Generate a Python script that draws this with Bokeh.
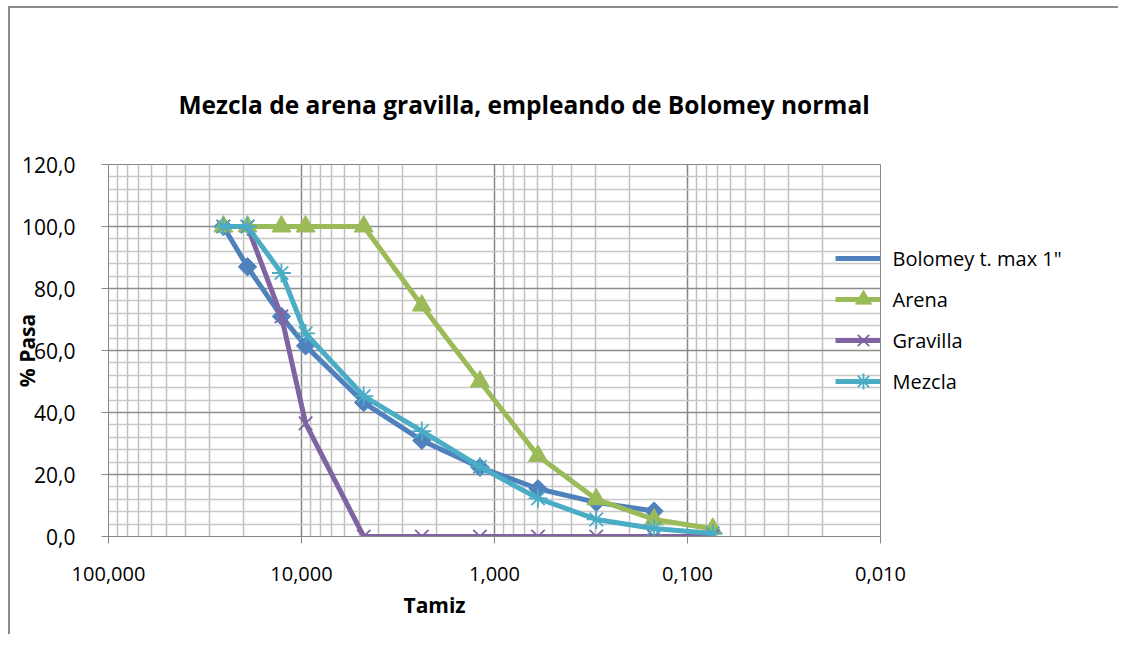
import math
from bokeh.plotting import figure
from bokeh.models import (Range1d, FixedTicker, CustomJSTickFormatter, Legend, LegendItem,
                          Title, LinearAxis)
from bokeh.embed import file_html
from bokeh.resources import INLINE

# Sieve openings (mm)
tamiz = [25.4, 19.05, 12.7, 9.525, 4.76, 2.38, 1.19, 0.595, 0.297, 0.149, 0.074]

bolomey_x = [25.4, 19.05, 12.7, 9.525, 4.76, 2.38, 1.19, 0.595, 0.297, 0.149]
bolomey = [100.0, 87.0, 71.0, 61.5, 43.2, 31.0, 22.3, 15.4, 11.0, 8.2]
arena = [100.0, 100.0, 100.0, 100.0, 100.0, 74.5, 50.0, 26.0, 12.0, 5.5, 2.5]
gravilla = [100.0, 100.0, 71.0, 36.5, 0.0, 0.0, 0.0, 0.0, 0.0, 0.0, 0.0]
mezcla = [100.0, 100.0, 85.0, 65.5, 45.3, 34.0, 22.5, 12.3, 5.5, 2.6, 1.0]

x_ticks = [100, 10, 1, 0.1, 0.01]
x_minor = [m * 10.0 ** e for e in (-2, -1, 0, 1) for m in range(2, 10)]
y_ticks = [0, 20, 40, 60, 80, 100, 120]
y_minor = [v for v in range(0, 121, 4) if v % 20 != 0]

title_text = "Mezcla de arena gravilla, empleando de Bolomey normal"
series_names = ['Bolomey  t. max  1"', "Arena", "Gravilla", "Mezcla"]
colors = ["#4F81BD", "#9BBB59", "#8064A2", "#4BACC6"]

FONT = "Open Sans"

# layout constants (pixels)
FRAME_H = 372
LEG_TOP = 94        # first legend row centre, below top of plot area
LEG_STEP = 41       # legend row spacing

p = figure(width=1110, height=628, x_axis_type="log",
           x_range=Range1d(100, 0.01), y_range=Range1d(0, 120),
           output_backend="svg", toolbar_location=None,
           min_border_left=95, min_border_right=240,
           min_border_top=156, min_border_bottom=100)
p.styles = {"margin-left": "8px", "margin-top": "6px",
            "border-left": "2px solid #8c8c8c", "border-top": "2px solid #8c8c8c"}
p.outline_line_color = "#868686"
p.background_fill_color = "white"
p.border_fill_color = "white"

# axes
p.xaxis.ticker = FixedTicker(ticks=x_ticks, minor_ticks=x_minor)
p.yaxis.ticker = FixedTicker(ticks=y_ticks, minor_ticks=y_minor)
p.xaxis.formatter = CustomJSTickFormatter(code="return tick.toFixed(3).replace('.', ',');")
p.yaxis.formatter = CustomJSTickFormatter(code="return tick.toFixed(1).replace('.', ',');")
for ax in (p.xaxis, p.yaxis):
    ax.axis_line_color = "#868686"
    ax.major_tick_line_color = "#868686"
    ax.major_tick_out = 7
    ax.major_tick_in = 0
    ax.minor_tick_out = 0
    ax.minor_tick_in = 0
    ax.major_label_text_font = FONT
    ax.major_label_text_font_size = "20px"
    ax.major_label_text_color = "black"
p.yaxis.major_label_text_font_size = "21px"
p.xaxis.major_label_standoff = 23
p.yaxis.major_label_standoff = 26

p.yaxis.axis_label = "% Pasa"
p.yaxis.axis_label_standoff = -22
p.yaxis.axis_label_text_font = FONT
p.yaxis.axis_label_text_font_style = "bold"
p.yaxis.axis_label_text_font_size = "21px"
p.yaxis.axis_label_text_color = "black"

# grid
p.xgrid.grid_line_color = "#868686"
p.ygrid.grid_line_color = "#8c8c8c"
p.xgrid.minor_grid_line_color = "#c0c0c0"
p.ygrid.minor_grid_line_color = "#c8c8c8"
p.xgrid.grid_line_width = 1.5
p.ygrid.grid_line_width = 1.5
p.xgrid.minor_grid_line_width = 1.5
p.ygrid.minor_grid_line_width = 1.5

LW = 5
r_b_line = p.line(bolomey_x, bolomey, line_color=colors[0], line_width=LW)
r_b_mark = p.scatter(bolomey_x, bolomey, marker="square", angle=math.pi / 4, size=13,
                     fill_color=colors[0], line_color=colors[0])
r_a_line = p.line(tamiz, arena, line_color=colors[1], line_width=LW)
r_a_mark = p.scatter(tamiz, arena, marker="triangle", size=19,
                     fill_color=colors[1], line_color=colors[1])
r_g_line = p.line(tamiz, gravilla, line_color=colors[2], line_width=LW)
r_g_mark = p.scatter(tamiz, gravilla, marker="x", size=19,
                     line_color=colors[2], line_width=1.8)
r_m_line = p.line(tamiz, mezcla, line_color=colors[3], line_width=LW)
r_m_mark = p.scatter(tamiz, mezcla, marker="asterisk", size=19,
                     line_color=colors[3], line_width=1.8)

# legend-only diamond (the rotated square is not rotated inside legends)
r_b_leg = p.scatter([], [], marker="diamond", size=16,
                    fill_color=colors[0], line_color=colors[0])

# legend glyphs (inside the plot area, at its right edge)
legend_glyphs = Legend(items=[
    LegendItem(label=" ", renderers=[r_b_line, r_b_leg]),
    LegendItem(label=" ", renderers=[r_a_line, r_a_mark]),
    LegendItem(label=" ", renderers=[r_g_line, r_g_mark]),
    LegendItem(label=" ", renderers=[r_m_line, r_m_mark]),
], location=(727, 135), orientation="vertical",
    glyph_width=56, glyph_height=40, label_height=40, spacing=1,
    padding=0, margin=0, label_standoff=0, label_width=0,
    background_fill_alpha=0, border_line_alpha=0,
    label_text_font=FONT, label_text_font_size="20px")
p.add_layout(legend_glyphs)

# legend texts: a right-hand axis whose ticks are the legend rows
p.extra_y_ranges = {"legend": Range1d(start=(FRAME_H - LEG_TOP) / LEG_STEP,
                                      end=-LEG_TOP / LEG_STEP)}
leg_axis = LinearAxis(y_range_name="legend",
                      ticker=FixedTicker(ticks=list(range(len(series_names))), minor_ticks=[]),
                      formatter=CustomJSTickFormatter(args=dict(names=series_names),
                                                      code="const i = Math.round(tick); return (i >= 0 && i < names.length) ? names[i] : '';"),
                      axis_line_color=None, major_tick_line_color=None,
                      major_tick_out=0, major_tick_in=0, minor_tick_out=0, minor_tick_in=0,
                      major_label_standoff=12,
                      major_label_text_font=FONT, major_label_text_font_size="20px",
                      major_label_text_color="black")
p.add_layout(leg_axis, "right")

# chart title
t = Title(text=title_text, align="left", offset=70, standoff=88,
          text_font=FONT, text_font_style="bold", text_font_size="24.5px",
          text_color="black")
p.add_layout(t, "above")

# x axis title
tx = Title(text="Tamiz", align="left", offset=295, standoff=10,
           text_font=FONT, text_font_style="bold", text_font_size="21px",
           text_color="black")
p.add_layout(tx, "below")

open("out.html", "w").write(file_html(p, INLINE))
